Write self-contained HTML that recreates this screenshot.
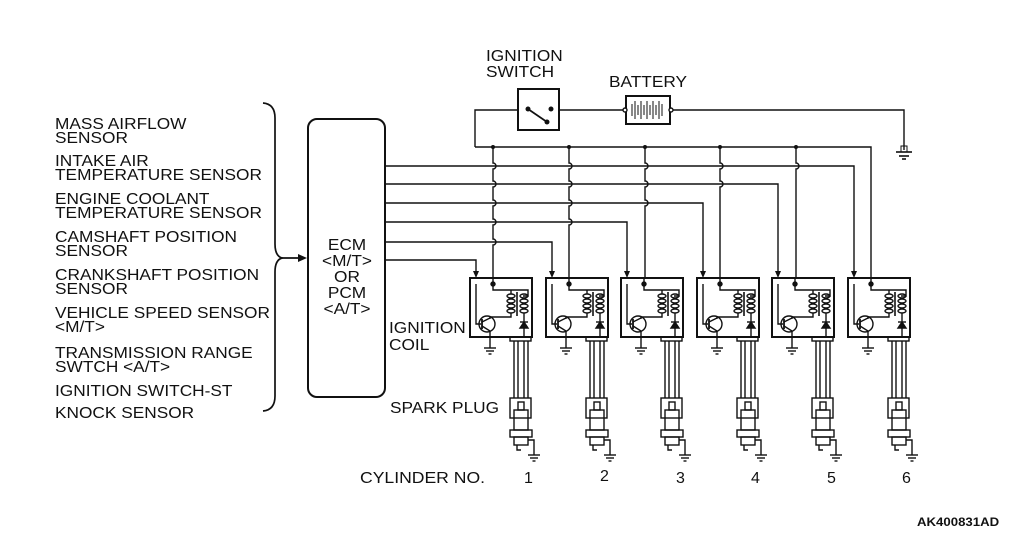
<!DOCTYPE html>
<html><head><meta charset="utf-8"><style>
html,body{margin:0;padding:0;background:#fff}
svg{display:block}
text{font-family:"Liberation Sans",Arial,sans-serif;fill:#111}
.t{font-size:16px}
</style></head><body>
<svg width="1010" height="536" viewBox="0 0 1010 536" xmlns="http://www.w3.org/2000/svg">
<defs>
<g id="gnd"><line x1="-6" y1="0" x2="6" y2="0"/><line x1="-4" y1="3" x2="4" y2="3"/><line x1="-1.5" y1="6" x2="1.5" y2="6"/></g>
<g id="coil" fill="none" stroke="#111" stroke-width="1.4">
<rect x="0" y="0" width="62" height="59" stroke-width="2"/>
<line x1="23" y1="0" x2="23" y2="6"/>
<circle cx="23" cy="6" r="2" fill="#111"/>
<path d="M23 6 V12 H58 V18 H53"/>
<path d="M6 6 V46 H11"/>
<ellipse cx="41" cy="18" rx="4" ry="2"/><ellipse cx="41" cy="23" rx="4" ry="2"/><ellipse cx="41" cy="28" rx="4" ry="2"/><ellipse cx="41" cy="33" rx="4" ry="2"/>
<ellipse cx="54" cy="18" rx="4" ry="2"/><ellipse cx="54" cy="23" rx="4" ry="2"/><ellipse cx="54" cy="28" rx="4" ry="2"/><ellipse cx="54" cy="33" rx="4" ry="2"/>
<line x1="47" y1="14" x2="47" y2="38" stroke-width="1.6"/>
<path d="M41 16 V12"/>
<path d="M41 35 V39 H20 V41"/>
<circle cx="17" cy="46" r="8"/>
<line x1="12" y1="41" x2="12" y2="51" stroke-width="1.8"/>
<line x1="12" y1="44" x2="20" y2="40"/>
<path d="M12 48 L20 53 V70"/>
<path d="M54 35 V44"/>
<path d="M50 50 L58 50 L54 44 Z" fill="#111"/>
<line x1="50" y1="44" x2="58" y2="44"/>
<path d="M54 50 V60"/>
<use href="#gnd" x="20" y="70"/>
<rect x="40" y="59" width="21" height="4"/>
<line x1="44" y1="63" x2="44" y2="120"/><line x1="48" y1="63" x2="48" y2="120"/>
<line x1="54" y1="63" x2="54" y2="120"/><line x1="58" y1="63" x2="58" y2="120"/>
<rect x="40" y="120" width="21" height="20"/>
<rect x="48" y="124" width="6" height="8"/>
<rect x="44" y="132" width="14" height="20"/>
<rect x="40" y="152" width="22" height="7"/>
<rect x="44" y="159" width="14" height="8"/>
<path d="M47 167 V172 H51"/>
<path d="M58 162 H64 V177"/>
<use href="#gnd" x="64" y="177"/>
</g>
</defs>

<g class="t">
<g transform="translate(55 0) scale(1.08 1)">
<text x="0" y="129">MASS AIRFLOW</text>
<text x="0" y="143">SENSOR</text>
<text x="0" y="166">INTAKE AIR</text>
<text x="0" y="180">TEMPERATURE SENSOR</text>
<text x="0" y="204">ENGINE COOLANT</text>
<text x="0" y="218">TEMPERATURE SENSOR</text>
<text x="0" y="242">CAMSHAFT POSITION</text>
<text x="0" y="256">SENSOR</text>
<text x="0" y="280">CRANKSHAFT POSITION</text>
<text x="0" y="294">SENSOR</text>
<text x="0" y="318">VEHICLE SPEED SENSOR</text>
<text x="0" y="332">&lt;M/T&gt;</text>
<text x="0" y="358">TRANSMISSION RANGE</text>
<text x="0" y="372">SWTCH &lt;A/T&gt;</text>
<text x="0" y="396">IGNITION SWITCH-ST</text>
<text x="0" y="418">KNOCK SENSOR</text>
</g>
<g transform="translate(486 0) scale(1.08 1)"><text x="0" y="61">IGNITION</text><text x="0" y="77">SWITCH</text></g>
<g transform="translate(609 0) scale(1.08 1)"><text x="0" y="87">BATTERY</text></g>
<g transform="translate(389 0) scale(1.08 1)"><text x="0" y="333">IGNITION</text><text x="0" y="350">COIL</text></g>
<g transform="translate(390 0) scale(1.08 1)"><text x="0" y="413">SPARK PLUG</text></g>
<g transform="translate(360 0) scale(1.1 1)"><text x="0" y="483">CYLINDER NO.</text></g>
<text x="524" y="483">1</text>
<text x="600" y="481">2</text>
<text x="676" y="483">3</text>
<text x="751" y="483">4</text>
<text x="827" y="483">5</text>
<text x="902" y="483">6</text>
<g text-anchor="middle" transform="translate(347 0) scale(1.08 1)">
<text x="0" y="250">ECM</text>
<text x="0" y="266">&lt;M/T&gt;</text>
<text x="0" y="282">OR</text>
<text x="0" y="298">PCM</text>
<text x="0" y="314">&lt;A/T&gt;</text>
</g>
</g>
<g transform="translate(917 0) scale(1.1 1)"><text x="0" y="526" font-size="12" font-weight="bold">AK400831AD</text></g>

<g fill="none" stroke="#111" stroke-width="1.4">
<path d="M263 103 Q275 104 275 118 V244 Q275 256 282 258 Q275 260 275 272 V396 Q275 410 263 411" stroke-width="1.7"/>
<line x1="282" y1="258" x2="302" y2="258" stroke-width="1.7"/>
<rect x="308" y="119" width="77" height="278" rx="9" stroke-width="2"/>
<path d="M475 147 V110 H518"/>
<rect x="518" y="89" width="41" height="41" stroke-width="2"/>
<path d="M559 110 H624"/>
<path d="M672 110 H904 V150"/>
<rect x="626" y="96" width="44" height="28" stroke-width="2"/>
<circle cx="625" cy="110" r="2" fill="#fff"/>
<circle cx="671" cy="110" r="2" fill="#fff"/>
<g stroke-width="1"><line x1="632" y1="104" x2="632" y2="116"/><line x1="635" y1="101" x2="635" y2="119"/><line x1="638" y1="105" x2="638" y2="115"/><line x1="641" y1="101" x2="641" y2="119"/><line x1="644" y1="105" x2="644" y2="115"/><line x1="647" y1="101" x2="647" y2="119"/><line x1="650" y1="105" x2="650" y2="115"/><line x1="653" y1="101" x2="653" y2="119"/><line x1="656" y1="105" x2="656" y2="115"/><line x1="659" y1="101" x2="659" y2="119"/><line x1="662" y1="104" x2="662" y2="116"/></g>
<line x1="528" y1="109" x2="547" y2="122" stroke-width="1.7"/>
<g stroke-width="1.6"><line x1="896" y1="152" x2="912" y2="152"/><line x1="899" y1="156" x2="909" y2="156"/><line x1="902" y1="159" x2="906" y2="159"/></g>
<path d="M475 147 H871 V278"/>
<path d="M493 147 V163 a3 3 0 0 1 0 6 V181 a3 3 0 0 1 0 6 V200 a3 3 0 0 1 0 6 V219 a3 3 0 0 1 0 6 V239 a3 3 0 0 1 0 6 V278"/>
<path d="M569 147 V163 a3 3 0 0 1 0 6 V181 a3 3 0 0 1 0 6 V200 a3 3 0 0 1 0 6 V219 a3 3 0 0 1 0 6 V278"/>
<path d="M645 147 V163 a3 3 0 0 1 0 6 V181 a3 3 0 0 1 0 6 V200 a3 3 0 0 1 0 6 V278"/>
<path d="M720 147 V163 a3 3 0 0 1 0 6 V181 a3 3 0 0 1 0 6 V278"/>
<path d="M796 147 V163 a3 3 0 0 1 0 6 V278"/>
<path d="M385 166 H854 V272"/>
<path d="M385 184 H778 V272"/>
<path d="M385 203 H703 V272"/>
<path d="M385 222 H627 V272"/>
<path d="M385 242 H552 V272"/>
<path d="M385 260 H476 V272"/>
</g>
<g fill="#111">
<circle cx="528" cy="109" r="2.5"/><circle cx="551" cy="109" r="2.5"/><circle cx="547" cy="122" r="2.5"/>
<circle cx="493" cy="147" r="2"/><circle cx="569" cy="147" r="2"/><circle cx="645" cy="147" r="2"/><circle cx="720" cy="147" r="2"/><circle cx="796" cy="147" r="2"/>
<rect x="901" y="146" width="6" height="6" fill="none" stroke="#111"/>
<path d="M307 258 L298 254 L298 262 Z"/>
<path d="M476 278 l-3 -7 h6 Z"/><path d="M552 278 l-3 -7 h6 Z"/><path d="M627 278 l-3 -7 h6 Z"/>
<path d="M703 278 l-3 -7 h6 Z"/><path d="M778 278 l-3 -7 h6 Z"/><path d="M854 278 l-3 -7 h6 Z"/>
</g>
<use href="#coil" x="470" y="278"/>
<use href="#coil" x="546" y="278"/>
<use href="#coil" x="621" y="278"/>
<use href="#coil" x="697" y="278"/>
<use href="#coil" x="772" y="278"/>
<use href="#coil" x="848" y="278"/>
</svg>
</body></html>
